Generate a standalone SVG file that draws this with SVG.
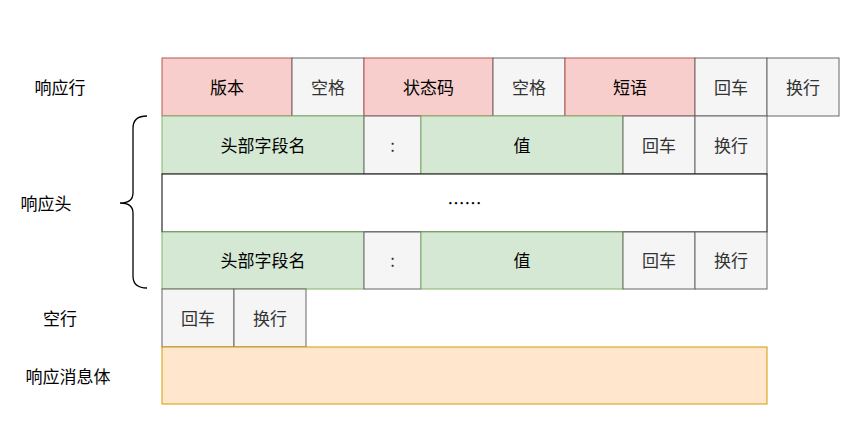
<svg xmlns="http://www.w3.org/2000/svg" width="851" height="430" viewBox="0 0 851 430">
<style>
text{font-family:"Noto Sans CJK SC","Liberation Sans",sans-serif;font-size:17px;text-anchor:middle;dominant-baseline:central;fill:#000}
.r rect{fill:#f8cecc;stroke:#b85450}
.g rect{fill:#f5f5f5;stroke:#666666}
.g text{fill:#333333}
.gr rect{fill:#d5e8d4;stroke:#82b366}
.w rect{fill:#ffffff;stroke:#000000}
.o rect{fill:#ffe6cc;stroke:#d79b00}
rect{stroke-width:1}
.lbl{fill:#000}
</style>
<rect width="851" height="430" fill="#fff"/>
<g id="labels">
<text class="lbl" x="60" y="86">响应行</text>
<text class="lbl" x="46" y="202">响应头</text>
<text class="lbl" x="60" y="317">空行</text>
<text class="lbl" x="68" y="375">响应消息体</text>
</g>
<g id="connectors">
<path d="M147,116 Q133,116 133,128 L133,193 Q133,203 120,203 Q133,203 133,213 L133,276 Q133,288 147,288" fill="none" stroke="#000" stroke-width="1.3"/>
</g>
<g id="row1">
<g id="version" class="r"><rect x="162" y="58" width="130" height="58"/><text x="227" y="86">版本</text></g>
<g id="space1" class="g"><rect x="292" y="58" width="72" height="58"/><text x="328" y="86">空格</text></g>
<g id="status" class="r"><rect x="364" y="58" width="129" height="58"/><text x="428.5" y="86">状态码</text></g>
<g id="space2" class="g"><rect x="493" y="58" width="72" height="58"/><text x="529" y="86">空格</text></g>
<g id="phrase" class="r"><rect x="565" y="58" width="130" height="58"/><text x="630" y="86">短语</text></g>
<g id="cr1" class="g"><rect x="695" y="58" width="72" height="58"/><text x="731" y="86">回车</text></g>
<g id="lf1" class="g"><rect x="767" y="58" width="72" height="58"/><text x="803" y="86">换行</text></g>
</g>
<g id="header1">
<g id="name1" class="gr"><rect x="162" y="116" width="202" height="58"/><text x="263" y="144">头部字段名</text></g>
<g id="colon1" class="g"><rect x="364" y="116" width="57" height="58"/><text x="392.5" y="144">:</text></g>
<g id="value1" class="gr"><rect x="421" y="116" width="202" height="58"/><text x="522" y="144">值</text></g>
<g id="cr2" class="g"><rect x="623" y="116" width="72" height="58"/><text x="659" y="144">回车</text></g>
<g id="lf2" class="g"><rect x="695" y="116" width="72" height="58"/><text x="731" y="144">换行</text></g>
</g>
<g id="dots" class="w"><rect x="162" y="174" width="605" height="58"/><text x="464.5" y="202">……</text></g>
<g id="header2">
<g id="name2" class="gr"><rect x="162" y="232" width="202" height="57"/><text x="263" y="259.5">头部字段名</text></g>
<g id="colon2" class="g"><rect x="364" y="232" width="57" height="57"/><text x="392.5" y="259.5">:</text></g>
<g id="value2" class="gr"><rect x="421" y="232" width="202" height="57"/><text x="522" y="259.5">值</text></g>
<g id="cr3" class="g"><rect x="623" y="232" width="72" height="57"/><text x="659" y="259.5">回车</text></g>
<g id="lf3" class="g"><rect x="695" y="232" width="72" height="57"/><text x="731" y="259.5">换行</text></g>
</g>
<g id="emptyline">
<g id="cr4" class="g"><rect x="162" y="289" width="72" height="58"/><text x="198" y="317">回车</text></g>
<g id="lf4" class="g"><rect x="234" y="289" width="72" height="58"/><text x="270" y="317">换行</text></g>
</g>
<g id="body" class="o"><rect x="162" y="347" width="605" height="57"/></g>
</svg>
